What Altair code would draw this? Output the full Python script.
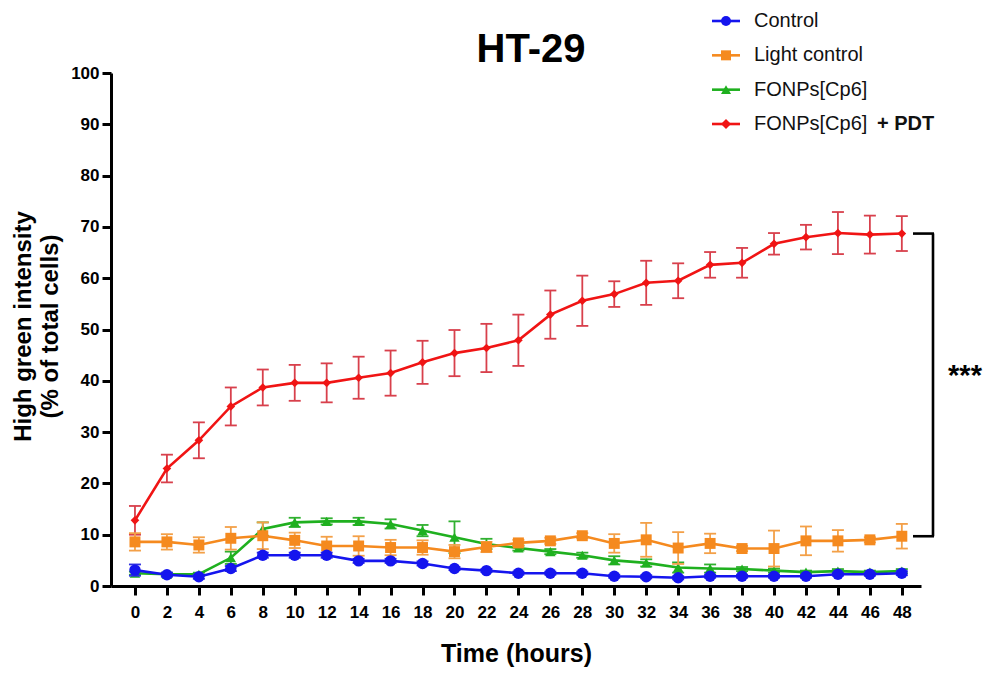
import altair as alt
import pandas as pd

# ---------------- data ----------------
HOURS = list(range(0, 49, 2))

SERIES = ["Control", "Light control", "FONPs[Cp6]", "FONPs[Cp6] + PDT"]
LEGEND_TEXT = ["Control", "Light control", "FONPs[Cp6]", "FONPs[Cp6]"]
LEGEND_BOLD = ["", "", "", "+ PDT"]

control_mean = [3.1, 2.2, 1.8, 3.4, 6.0, 6.0, 6.0, 4.9, 4.9, 4.4, 3.4, 3.0, 2.5,
                2.5, 2.5, 1.9, 1.8, 1.6, 1.9, 1.9, 1.9, 1.9, 2.3, 2.3, 2.5]
control_sd = [1.1, 0.4, 0.4, 0.5, 0.5, 0.5, 0.5, 0.4, 0.4, 0.4, 0.3, 0.3, 0.3,
              0.3, 0.3, 0.3, 0.3, 0.3, 0.3, 0.3, 0.3, 0.3, 0.3, 0.3, 0.4]

light_mean = [8.6, 8.6, 8.0, 9.3, 9.8, 8.9, 7.8, 7.8, 7.5, 7.5, 6.7, 7.6, 8.4,
              8.8, 9.8, 8.3, 9.0, 7.4, 8.3, 7.3, 7.3, 8.8, 8.8, 9.0, 9.7]
light_sd = [1.7, 1.5, 1.5, 2.2, 2.6, 1.5, 1.8, 1.9, 1.5, 1.4, 1.3, 1.0, 0.6,
            0.6, 0.5, 1.8, 3.3, 3.1, 1.9, 0.5, 3.5, 2.8, 2.1, 0.5, 2.4]

fonps_mean = [2.5, 2.3, 2.3, 5.5, 11.1, 12.4, 12.6, 12.6, 12.1, 10.8, 9.5, 8.2, 7.4,
              6.7, 6.0, 5.0, 4.5, 3.6, 3.4, 3.3, 3.0, 2.7, 2.9, 2.7, 2.9]
fonps_sd = [0.3, 0.3, 0.3, 1.2, 1.3, 0.9, 0.6, 0.7, 0.9, 1.1, 3.1, 1.0, 0.5,
            0.5, 0.5, 0.8, 0.7, 1.0, 0.8, 0.4, 0.4, 0.3, 0.4, 0.3, 0.4]

pdt_mean = [12.8, 22.9, 28.4, 35.0, 38.7, 39.6, 39.6, 40.6, 41.5, 43.6, 45.4, 46.4, 47.9,
            52.9, 55.6, 56.9, 59.1, 59.5, 62.6, 63.0, 66.7, 68.0, 68.8, 68.5, 68.7]
pdt_sd = [2.8, 2.7, 3.5, 3.7, 3.5, 3.5, 3.8, 4.1, 4.4, 4.2, 4.5, 4.7, 5.0,
          4.7, 4.9, 2.5, 4.3, 3.4, 2.5, 2.9, 2.1, 2.4, 4.1, 3.7, 3.4]

TITLE = "HT-29"
Y_TITLE = ["High green intensity", "(% of total cells)"]
X_TITLE = "Time (hours)"
SIGNIF = "***"

# ---------------- styles ----------------
COLORS = ["#1515ee", "#f58a1f", "#1fb01f", "#f01414"]
ERR_COLORS = ["#3030e0", "#f3a048", "#30b030", "#d8404c"]
SHAPES = ["circle", "square", "triangle-up", "diamond"]
SIZES = [130, 120, 110, 75]
FONT = "Liberation Sans"

means = [control_mean, light_mean, fonps_mean, pdt_mean]
sds = [control_sd, light_sd, fonps_sd, pdt_sd]

rows = []
for s, m, sd in zip(SERIES, means, sds):
    for h, mv, sv in zip(HOURS, m, sd):
        rows.append({"series": s, "hour": h, "mean": mv, "lo": mv - sv, "hi": mv + sv})
df = pd.DataFrame(rows)

X_AXIS = alt.Axis(values=HOURS, title=X_TITLE, grid=False, labelPadding=9,
                  titleY=75, titleBaseline="alphabetic", titleFontSize=25,
                  titleFontWeight="bold", titleFont=FONT, labelAngle=0)
Y_AXIS = alt.Axis(values=list(range(0, 101, 10)), title=Y_TITLE, grid=False,
                  labelPadding=3, titleAngle=270, titleX=-88, titleY=253,
                  titleAlign="center", titleBaseline="middle", titleLineHeight=27,
                  titleFontSize=24, titleFontWeight="bold", titleFont=FONT)
XSCALE = alt.Scale(domain=[-1.5, 49.2], nice=False, zero=False)
YSCALE = alt.Scale(domain=[0, 100], nice=False)


def X(field="hour"):
    return alt.X(f"{field}:Q", scale=XSCALE, axis=X_AXIS)


def Y(field):
    return alt.Y(f"{field}:Q", scale=YSCALE, axis=Y_AXIS)


layers = []
for i in reversed(range(len(SERIES))):
    base = alt.Chart(df).transform_filter(alt.datum.series == SERIES[i])
    err = base.mark_rule(color=ERR_COLORS[i], strokeWidth=1.8).encode(
        x=X(), y=Y("lo"), y2="hi:Q")
    cap_hi = base.mark_rule(color=ERR_COLORS[i], strokeWidth=1.8, xOffset=-6, x2Offset=6).encode(
        x=X(), x2="hour:Q", y=Y("hi"))
    cap_lo = base.mark_rule(color=ERR_COLORS[i], strokeWidth=1.8, xOffset=-6, x2Offset=6).encode(
        x=X(), x2="hour:Q", y=Y("lo"))
    line = base.mark_line(color=COLORS[i], strokeWidth=2.6).encode(x=X(), y=Y("mean"))
    pts = base.mark_point(shape=SHAPES[i], size=SIZES[i], filled=True, opacity=1,
                          color=COLORS[i]).encode(x=X(), y=Y("mean"))
    layers += [err, cap_hi, cap_lo, line, pts]

# significance bracket between last PDT and last Light-control values
br = pd.DataFrame({"top": [pdt_mean[-1]], "bot": [light_mean[-1]],
                   "mid": [(pdt_mean[-1] + light_mean[-1]) / 2], "txt": [SIGNIF]})
bv = alt.Chart(br).mark_rule(color="black", strokeWidth=2.6).encode(
    x=alt.value(822), y=Y("top"), y2="bot:Q")
bt = alt.Chart(br).mark_rule(color="black", strokeWidth=2.6).encode(
    x=alt.value(802), x2=alt.value(823), y=Y("top"))
bb = alt.Chart(br).mark_rule(color="black", strokeWidth=2.6).encode(
    x=alt.value(802), x2=alt.value(823), y=Y("bot"))
stars = alt.Chart(br).mark_text(font=FONT, fontSize=29, fontWeight="bold", color="black",
                                align="center", baseline="alphabetic", dy=0).encode(
    x=alt.value(854), y=Y("mid"), text="txt:N")
layers += [bv, bt, bb, stars]

main = alt.layer(*layers)

# ---------------- legend (drawn manually) ----------------
leg = pd.DataFrame({"series": SERIES, "label": LEGEND_TEXT, "bold": LEGEND_BOLD})
LY = alt.Y("series:N", scale=alt.Scale(type="point", domain=SERIES, range=[-52, 51], padding=0),
           axis=None)
col = alt.Color("series:N", scale=alt.Scale(domain=SERIES, range=COLORS), legend=None)
shp = alt.Shape("series:N", scale=alt.Scale(domain=SERIES, range=SHAPES), legend=None)
sz = alt.Size("series:N", scale=alt.Scale(domain=SERIES, range=[100, 100, 90, 60]), legend=None)
leg_line = alt.Chart(leg).mark_rule(strokeWidth=2.6).encode(
    x=alt.value(601), x2=alt.value(629), y=LY, color=col)
leg_pt = alt.Chart(leg).mark_point(filled=True, opacity=1).encode(
    x=alt.value(615), y=LY, color=col, shape=shp, size=sz)
leg_txt = alt.Chart(leg).mark_text(font=FONT, fontSize=20, align="left", baseline="middle",
                                   color="#111111").encode(x=alt.value(643), y=LY, text="label:N")
leg_bold = alt.Chart(leg).mark_text(font=FONT, fontSize=20, fontWeight="bold", align="left",
                                    baseline="middle", color="#111111").encode(
    x=alt.value(766), y=LY, text="bold:N")
title = alt.Chart(pd.DataFrame({"t": [TITLE]})).mark_text(
    font=FONT, fontSize=40, fontWeight="bold", align="center", baseline="alphabetic",
    color="black").encode(x=alt.value(420), y=alt.value(-11), text="t:N")
legend = alt.layer(leg_line, leg_pt, leg_txt, leg_bold, title)

chart = alt.layer(main, legend).resolve_scale(y="independent", x="independent").properties(
    width=810, height=513,
    autosize=alt.AutoSizeParams(type="none"),
    padding={"left": 103, "top": 65, "right": 64, "bottom": 82},
).configure_view(stroke=None).configure_axis(
    domainColor="black", domainWidth=3, tickColor="black", tickWidth=3, tickSize=9,
    labelFont=FONT, labelFontSize=17, labelFontWeight="bold", labelColor="black",
    titleColor="black",
)

chart.save("out.html", embed_options={"renderer": "svg", "actions": False})
